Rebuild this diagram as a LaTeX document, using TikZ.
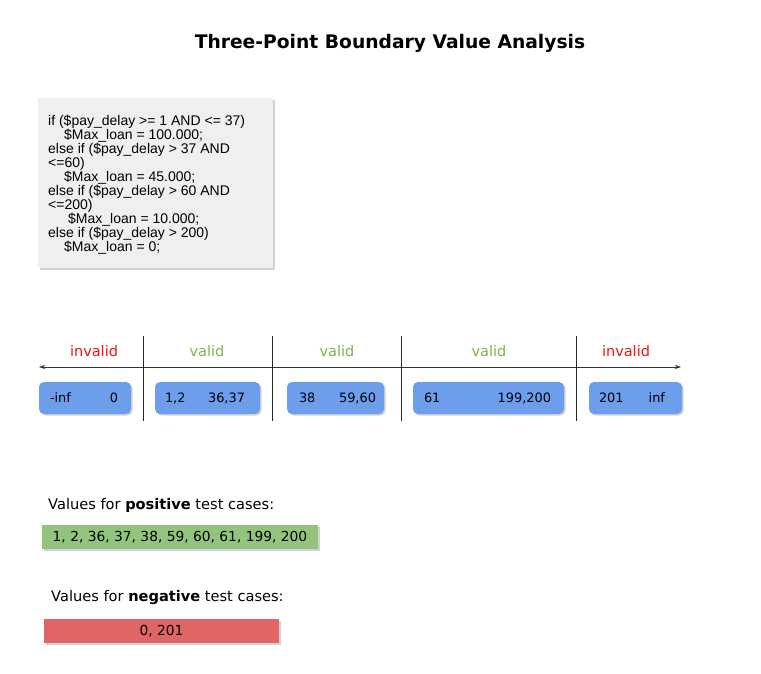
\documentclass[tikz,border=0pt]{standalone}
\usepackage{fontspec}
\setmainfont{DejaVu Sans}
\newfontfamily\codefont{Liberation Sans}
\usetikzlibrary{arrows.meta,shadows}
\definecolor{boxblue}{HTML}{6D9EEB}
\definecolor{okgreen}{HTML}{7AB648}
\definecolor{badred}{HTML}{E8161B}
\definecolor{posgreen}{HTML}{93C47D}
\definecolor{negred}{HTML}{E06666}
\definecolor{codegray}{HTML}{EFEFEF}
\tikzset{
  sh/.style={drop shadow={opacity=0.35,shadow xshift=1.5pt,shadow yshift=-1.5pt}},
  rangebox/.style={fill=boxblue,rounded corners=5pt,minimum height=32pt,inner sep=0pt,sh},
  lbl/.style={font=\fontsize{12.9}{14}\selectfont,inner sep=0pt},
  zone/.style={font=\fontsize{14.5}{16}\selectfont,inner sep=0pt},
  divider/.style={draw=black!85,line width=0.8pt},
  casebox/.style={minimum height=24pt,inner sep=0pt,font=\fontsize{13.8}{15}\selectfont,sh},
  caption/.style={font=\fontsize{14.6}{16}\selectfont,inner sep=0pt,anchor=west}
}
\begin{document}
\begin{tikzpicture}[x=1pt,y=-1pt]
\useasboundingbox[fill=white] (0,0) rectangle (761,673);
% title
\node[font=\bfseries\fontsize{18.7}{22}\selectfont] (title) at (390,43) {Three-Point Boundary Value Analysis};
% code box
\node[fill=codegray,minimum width=235pt,minimum height=170pt,sh,inner sep=0pt] (code) at (155.5,183) {};
\node[anchor=north west,inner sep=0pt,align=left,font=\codefont\fontsize{14}{14}\selectfont] (codetext) at (48,115) {%
if (\$pay\_delay >= 1 AND <= 37)\\
\hspace*{16pt}\$Max\_loan = 100.000;\\
else if (\$pay\_delay > 37 AND\\
<=60)\\
\hspace*{16pt}\$Max\_loan = 45.000;\\
else if (\$pay\_delay > 60 AND\\
<=200)\\
\hspace*{20pt}\$Max\_loan = 10.000;\\
else if (\$pay\_delay > 200)\\
\hspace*{16pt}\$Max\_loan = 0;};
% axis
\coordinate (axL) at (39,367);
\coordinate (axR) at (681,367);
\draw[black!80,line width=0.8pt,{Stealth[length=6pt,width=4pt]}-{Stealth[length=6pt,width=4pt]}] (axL) -- (axR);
\foreach \x/\n in {143/a,272/b,401/c,576/d}{
  \coordinate (\n top) at (\x,336);
  \coordinate (\n bot) at (\x,421);
  \draw[divider] (\n top) -- (\n bot);
}
% zone labels
\node[zone,text=badred] (z1) at (94,351) {invalid};
\node[zone,text=okgreen] (z2) at (207,351) {valid};
\node[zone,text=okgreen] (z3) at (337,351) {valid};
\node[zone,text=okgreen] (z4) at (489,351) {valid};
\node[zone,text=badred] (z5) at (626,351) {invalid};
% range boxes
\node[rangebox,minimum width=92pt] (b1) at (85,398) {};
\node[rangebox,minimum width=105pt] (b2) at (207.5,398) {};
\node[rangebox,minimum width=97pt] (b3) at (335.5,398) {};
\node[rangebox,minimum width=151pt] (b4) at (488.5,398) {};
\node[rangebox,minimum width=93pt] (b5) at (635.5,398) {};
\node[lbl,anchor=west] (b1l) at ([xshift=11pt]b1.west) {-inf};
\node[lbl,anchor=east] (b1r) at ([xshift=-13pt]b1.east) {0};
\node[lbl,anchor=west] (b2l) at ([xshift=10pt]b2.west) {1,2};
\node[lbl,anchor=east] (b2r) at ([xshift=-15pt]b2.east) {36,37};
\node[lbl,anchor=west] (b3l) at ([xshift=12pt]b3.west) {38};
\node[lbl,anchor=east] (b3r) at ([xshift=-8pt]b3.east) {59,60};
\node[lbl,anchor=west] (b4l) at ([xshift=11pt]b4.west) {61};
\node[lbl,anchor=east] (b4r) at ([xshift=-13pt]b4.east) {199,200};
\node[lbl,anchor=west] (b5l) at ([xshift=10pt]b5.west) {201};
\node[lbl,anchor=east] (b5r) at ([xshift=-17pt]b5.east) {inf};
% test cases
\node[caption] (pcap) at (48,505) {Values for \textbf{positive} test cases:};
\node[casebox,fill=posgreen,minimum width=276pt] (pos) at (180,537) {1, 2, 36, 37, 38, 59, 60, 61, 199, 200};
\node[caption] (ncap) at (51,598) {Values for \textbf{negative} test cases:};
\node[casebox,fill=negred,minimum width=235pt] (neg) at (161.5,631) {0, 201};
\end{tikzpicture}
\end{document}
